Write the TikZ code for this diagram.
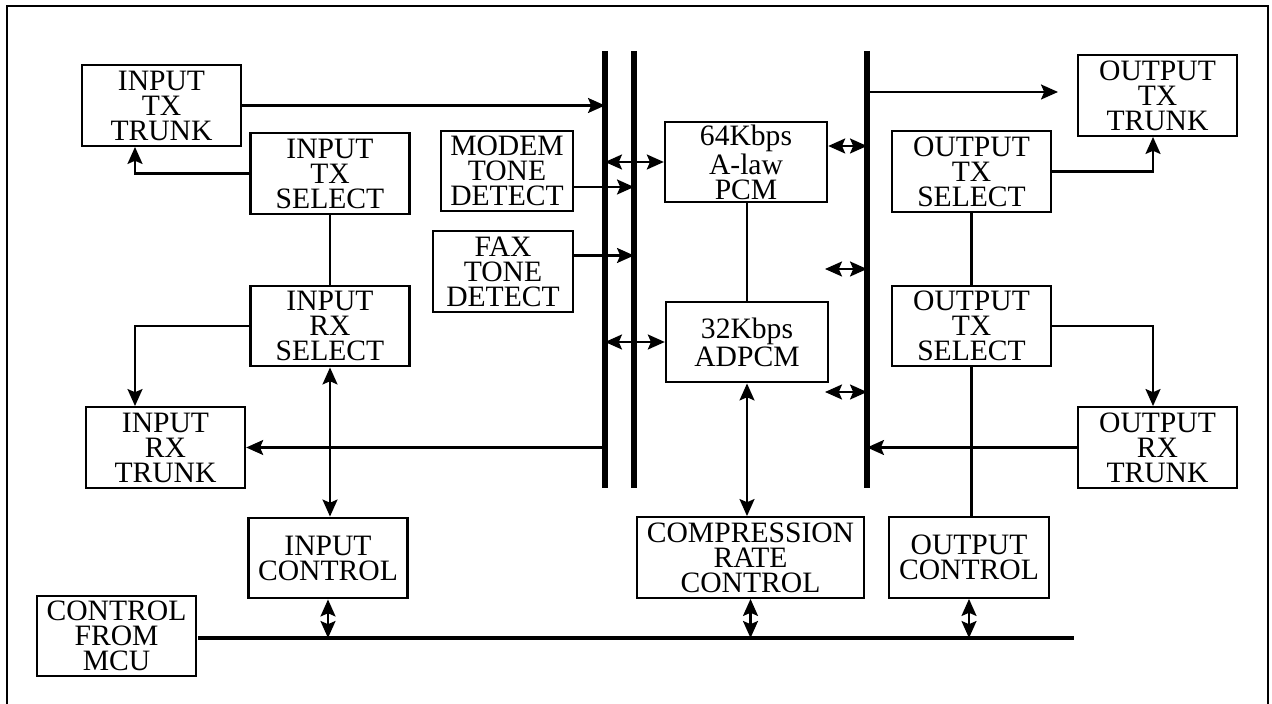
\documentclass[tikz,border=0pt]{standalone}
\usepackage{fontspec}
\setmainfont{Liberation Serif}
\usetikzlibrary{arrows.meta,calc}
\tikzset{
  >={Stealth[length=8.5pt,width=7.5pt,inset=1.6pt]},
  block/.style={draw,line width=1.2pt,inner sep=0pt,minimum width=#1,
    minimum height=40.25pt,align=center,font=\fontsize{14.8}{12.5}\selectfont},
  block/.default=79.5pt,
  flow/.style={->,line width=1.1pt},
  both/.style={<->,line width=1.1pt},
  wire/.style={line width=1.1pt},
  bus/.style={line width=2.6pt},
}
\begin{document}
\begin{tikzpicture}[x=0.5pt,y=-0.5pt]
  \useasboundingbox (0,0) rectangle (1272,704);
  \draw[line width=1.1pt] (7,704) -- (7,6) -- (1268,6) -- (1268,704);
  % buses
  \coordinate (b1t) at (605,51);  \coordinate (b1b) at (605,488);
  \coordinate (b2t) at (634,51);  \coordinate (b2b) at (634,488);
  \coordinate (b3t) at (867,51);  \coordinate (b3b) at (867,488);
  \coordinate (cbl) at (198,638); \coordinate (cbr) at (1074,638);
  \draw[bus] (b1t) -- (b1b);
  \draw[bus] (b2t) -- (b2b);
  \draw[bus] (b3t) -- (b3b);
  \draw[bus,line width=2.2pt] (cbl) -- (cbr);
  \coordinate (lft) at (135,0);
  \coordinate (rgt) at (1153,0);
  % blocks
  \node[block] (itxt) at (161.5,105.5) {INPUT\\TX\\TRUNK};
  \node[block] (itxs) at (330,173.5) {INPUT\\TX\\SELECT};
  \node[block=66pt] (modem) at (507,171) {MODEM\\TONE\\DETECT};
  \node[block=70pt] (fax) at (503,271.5) {FAX\\TONE\\DETECT};
  \node[block] (irxs) at (330,326) {INPUT\\RX\\SELECT};
  \node[block] (irxt) at (165.5,447.5) {INPUT\\RX\\TRUNK};
  \node[block] (ictl) at (328,558) {INPUT\\CONTROL};
  \node[block] (mcu) at (116.5,636) {CONTROL\\FROM\\MCU};
  \node[block=81pt] (pcm) at (746,162) {64Kbps\\A-law\\PCM};
  \node[block=81pt] (adpcm) at (747,342) {32Kbps\\ADPCM};
  \node[block=113.5pt] (crc) at (750.5,557.5) {COMPRESSION\\RATE\\CONTROL};
  \node[block] (otxt) at (1157.5,95.5) {OUTPUT\\TX\\TRUNK};
  \node[block] (otxs1) at (971.5,171.5) {OUTPUT\\TX\\SELECT};
  \node[block] (otxs2) at (971.5,326) {OUTPUT\\TX\\SELECT};
  \node[block] (orxt) at (1157.5,447.5) {OUTPUT\\RX\\TRUNK};
  \node[block=80pt] (octl) at (969,557.5) {OUTPUT\\CONTROL};
  \coordinate (mo) at ([yshift=-8pt]modem.east);
  \coordinate (fo) at ([yshift=8pt]fax.east);
  \coordinate (pe) at ([yshift=8pt]pcm.east);
  \coordinate (f1) at (825,269);
  \coordinate (f2) at (825,392);
  \coordinate (otxin) at (1058,92);
  % input side
  \draw[flow] (itxt.east) -- (itxt.east -| b1t);
  \draw[flow] (itxs.west) -| (lft |- itxt.south);
  \draw[wire] (itxs) -- (irxs);
  \draw[flow] (irxs.west) -| (lft |- irxt.north);
  \draw[both] (irxs.south) -- (irxs.south |- ictl.north);
  \draw[both] (ictl.south) -- (ictl.south |- cbl);
  \draw[flow] (irxt.east -| b1t) -- (irxt.east);
  % codec
  \draw[both] (pcm.west -| b1t) -- (pcm.west);
  \draw[both] (adpcm.west -| b1t) -- (adpcm.west);
  \draw[flow] (mo) -- (mo -| b2t);
  \draw[flow] (fo) -- (fo -| b2t);
  \draw[wire] (adpcm.north) -- (adpcm.north |- pcm.south);
  \draw[both] (adpcm.south) -- (adpcm.south |- crc.north);
  \draw[both] (crc.south) -- (crc.south |- cbl);
  \draw[both] (pe) -- (pe -| b3t);
  \draw[both] (f1) -- (f1 -| b3t);
  \draw[both] (f2) -- (f2 -| b3t);
  % output side
  \draw[flow] (otxin -| b3t) -- (otxin);
  \draw[flow] (otxs1.east) -| (rgt |- otxt.south);
  \draw[wire] (otxs1) -- (otxs2);
  \draw[flow] (otxs2.east) -| (rgt |- orxt.north);
  \draw[wire] (otxs2.south) -- (otxs2.south |- octl.north);
  \draw[flow] (orxt.west) -- (orxt.west -| b3t);
  \draw[both] (octl.south) -- (octl.south |- cbl);
\end{tikzpicture}
\end{document}
